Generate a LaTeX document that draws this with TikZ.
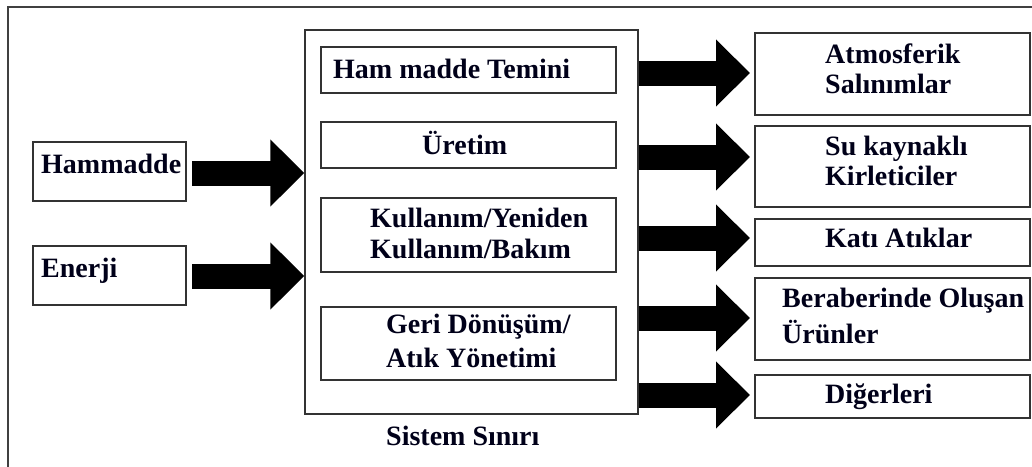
\documentclass[tikz,border=0pt]{standalone}
\usepackage{fontspec}
\setmainfont{Liberation Serif}
\usetikzlibrary{arrows.meta}
\tikzset{
  box/.style={draw=black!80, line width=1.3pt, fill=white, inner sep=0pt, rectangle},
  txt/.style={inner sep=0pt, anchor=base west, font=\fontsize{28}{30}\selectfont\bfseries, text=black!90!blue},
  fat/.style={line width=25pt, line cap=butt, -{Triangle[length=34pt, width=65pt]}, black},
  frameline/.style={draw=black!75, line width=1.3pt}
}
\begin{document}
\begin{tikzpicture}[x=1pt, y=-1pt]
\useasboundingbox (0,0) rectangle (1032,466);
\draw[frameline] (8,470) -- (8,7) -- (1036,7);

% input boxes
\node[box, minimum width=153pt, minimum height=59pt] (hm) at (109.5,171.5) {};
\node[box, minimum width=153pt, minimum height=59pt] (en) at (109.5,275.5) {};
\node[txt] (hmt) at (41,173) {Hammadde};
\node[txt] (ent) at (41,277) {Enerji};

% system boundary
\node[box, minimum width=333pt, minimum height=384pt] (sys) at (471.5,222) {};
\node[box, minimum width=295pt, minimum height=46pt] (b1) at (468.5,70) {};
\node[box, minimum width=295pt, minimum height=46pt] (b2) at (468.5,145) {};
\node[box, minimum width=295pt, minimum height=74pt] (b3) at (468.5,235) {};
\node[box, minimum width=295pt, minimum height=73pt] (b4) at (468.5,343.5) {};
\node[txt] (b1t) at (333,78) {Ham madde Temini};
\node[txt] (b2t) at (422,154) {Üretim};
\node[txt] (b3t) at (370,227) {Kullanım/Yeniden};
\node[txt] (b3u) at (370,258) {Kullanım/Bakım};
\node[txt] (b4t) at (386,333) {Geri Dönüşüm/};
\node[txt] (b4u) at (386,367) {Atık Yönetimi};
\node[txt] (syst) at (386,445) {Sistem Sınırı};

% output boxes
\node[box, minimum width=275pt, minimum height=82pt] (r1) at (892.5,74) {};
\node[box, minimum width=275pt, minimum height=81pt] (r2) at (892.5,166.5) {};
\node[box, minimum width=275pt, minimum height=47pt] (r3) at (892.5,242.5) {};
\node[box, minimum width=275pt, minimum height=82pt] (r4) at (892.5,319) {};
\node[box, minimum width=275pt, minimum height=43pt] (r5) at (892.5,396.5) {};
\node[txt] (r1t) at (825,63) {Atmosferik};
\node[txt] (r1u) at (825,93) {Salınımlar};
\node[txt] (r2t) at (825,155) {Su kaynaklı};
\node[txt] (r2u) at (825,185) {Kirleticiler};
\node[txt] (r3t) at (825,247) {Katı Atıklar};
\node[txt] (r4t) at (782,307) {Beraberinde Oluşan};
\node[txt] (r4u) at (782,343) {Ürünler};
\node[txt] (r5t) at (825,403) {Diğerleri};

% arrow end points
\coordinate (i1s) at (192,173);
\coordinate (i2s) at (192,276);
\coordinate (o1) at (750,73);
\coordinate (o2) at (750,157);
\coordinate (o3) at (750,238);
\coordinate (o4) at (750,318);
\coordinate (o5) at (750,395);

\draw[fat] (i1s) -- (i1s -| sys.west);
\draw[fat] (i2s) -- (i2s -| sys.west);
\draw[fat] (o1 -| sys.east) -- (o1);
\draw[fat] (o2 -| sys.east) -- (o2);
\draw[fat] (o3 -| sys.east) -- (o3);
\draw[fat] (o4 -| sys.east) -- (o4);
\draw[fat] (o5 -| sys.east) -- (o5);
\end{tikzpicture}
\end{document}
